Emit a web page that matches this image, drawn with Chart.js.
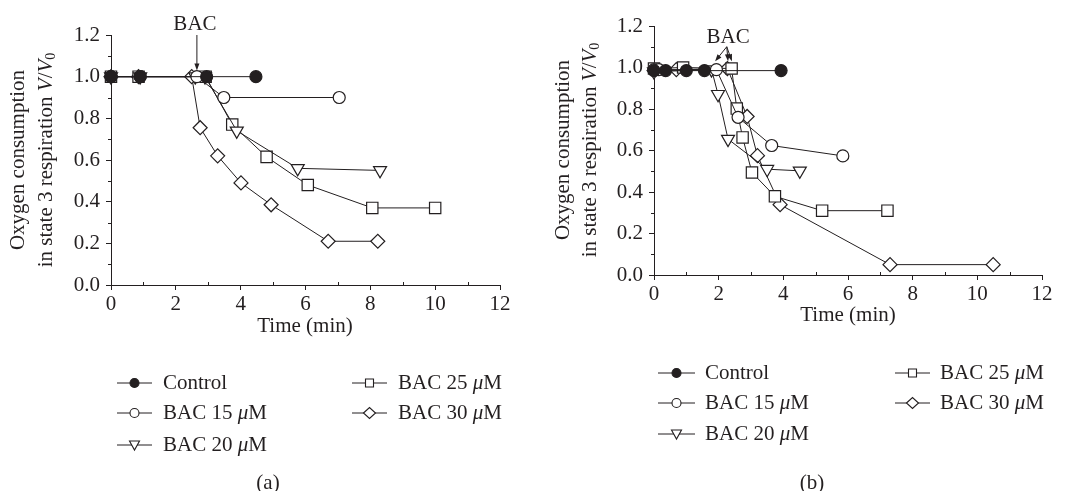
<!DOCTYPE html>
<html>
<head>
<meta charset="utf-8">
<script src="https://cdn.jsdelivr.net/npm/chart.js@4.4.0/dist/chart.umd.min.js"></script>
<style>
  body { margin: 0; background: #fff; }
  #wrap { position: relative; width: 1070px; height: 491px; }
  canvas { position: absolute; top: 0; }
</style>
</head>
<body>
<div id="wrap">
  <canvas id="chartA" width="535" height="491" style="left:0"></canvas>
  <canvas id="chartB" width="535" height="491" style="left:535px"></canvas>
</div>
<script>
// series names and marker shapes
const seriesLabels = ['Control', 'BAC 15 μM', 'BAC 20 μM', 'BAC 25 μM', 'BAC 30 μM'];
const seriesShapes = ['circle', 'circle', 'triangle', 'rect', 'rectRot'];
const xTickLabels = ['0', '2', '4', '6', '8', '10', '12'];
const yTickLabels = ['0.0', '0.2', '0.4', '0.6', '0.8', '1.0', '1.2'];

// panel (a): time (min) / V/V0
const controlA_t = [0, 0.9, 2.95, 4.47];
const controlA_v = [1.0, 1.0, 1.0, 1.0];
const bac15A_t = [0, 0.9, 2.65, 3.48, 7.04];
const bac15A_v = [1.0, 1.0, 1.0, 0.9, 0.9];
const bac20A_t = [0, 0.9, 2.6, 2.9, 3.88, 5.76, 8.3];
const bac20A_v = [1.0, 1.0, 1.0, 1.0, 0.74, 0.56, 0.55];
const bac25A_t = [0, 0.85, 2.92, 3.74, 4.8, 6.07, 8.06, 10.0];
const bac25A_v = [1.0, 1.0, 1.0, 0.77, 0.615, 0.48, 0.37, 0.37];
const bac30A_t = [0, 0.85, 2.49, 2.75, 3.29, 4.01, 4.94, 6.7, 8.23];
const bac30A_v = [1.0, 1.0, 1.0, 0.755, 0.62, 0.49, 0.385, 0.21, 0.21];

// panel (b)
const controlB_t = [0, 0.36, 1.0, 1.56, 3.93];
const controlB_v = [0.985, 0.985, 0.985, 0.985, 0.985];
const bac15B_t = [0, 0.15, 1.93, 2.6, 3.64, 5.84];
const bac15B_v = [0.99, 0.99, 0.99, 0.76, 0.624, 0.574];
const bac20B_t = [0, 1.78, 1.98, 2.29, 3.5, 4.51];
const bac20B_v = [0.98, 0.99, 0.871, 0.655, 0.51, 0.502];
const bac25B_t = [0, 0.9, 2.4, 2.56, 2.74, 3.03, 3.74, 5.2, 7.22];
const bac25B_v = [0.995, 1.0, 0.995, 0.802, 0.663, 0.494, 0.379, 0.31, 0.31];
const bac30B_t = [0, 0.69, 2.27, 2.88, 3.2, 3.9, 7.3, 10.49];
const bac30B_v = [0.985, 0.99, 0.995, 0.764, 0.575, 0.339, 0.05, 0.05];

const INK = '#231f20';
const FAM = '"Liberation Serif", "DejaVu Serif", serif';

function pts(t, v) {
  return t.map((x, i) => ({ x: x, y: v[i] }));
}

function makeDatasets(series) {
  return series.map((s, i) => ({
    label: seriesLabels[i],
    data: pts(s[0], s[1]),
    borderColor: INK,
    borderWidth: 1,
    tension: 0,
    clip: false,
    pointStyle: seriesShapes[i],
    pointRotation: seriesShapes[i] === 'triangle' ? 180 : 0,
    pointRadius: seriesShapes[i] === 'rect' ? 8 : (seriesShapes[i] === 'rectRot' ? 7 : (seriesShapes[i] === 'triangle' ? 7.5 : 6)),
    pointBorderWidth: 1.2,
    pointBorderColor: INK,
    pointBackgroundColor: i === 0 ? INK : '#fff'
  }));
}

// small marker for the legend
function drawMarker(ctx, shape, x, y, filled) {
  ctx.beginPath();
  if (shape === 'circle') {
    ctx.arc(x, y, 4.5, 0, Math.PI * 2);
  } else if (shape === 'rect') {
    ctx.rect(x - 4, y - 4, 8, 8);
  } else if (shape === 'rectRot') {
    ctx.moveTo(x - 6, y); ctx.lineTo(x, y - 5.5); ctx.lineTo(x + 6, y); ctx.lineTo(x, y + 5.5); ctx.closePath();
  } else {
    ctx.moveTo(x - 5, y - 4); ctx.lineTo(x + 5, y - 4); ctx.lineTo(x, y + 5); ctx.closePath();
  }
  ctx.fillStyle = filled ? INK : '#fff';
  ctx.fill();
  ctx.lineWidth = 1.1;
  ctx.strokeStyle = INK;
  ctx.stroke();
}

// text in pieces with different fonts
function drawRich(ctx, parts, x, y, align) {
  let total = 0;
  parts.forEach(p => { ctx.font = p.f; p.w = ctx.measureText(p.t).width; total += p.w; });
  let cx = align === 'center' ? x - total / 2 : x;
  ctx.textAlign = 'left';
  parts.forEach(p => { ctx.font = p.f; ctx.fillText(p.t, cx, y + (p.dy || 0)); cx += p.w; });
}

const fN = '21px ' + FAM;
const fI = 'italic 21px ' + FAM;
const fS = '14px ' + FAM;

function labelParts(label) {
  const m = label.match(/^(.*)(μ)(M)$/);
  if (!m) return [{ t: label, f: fN }];
  return [{ t: m[1], f: fN }, { t: m[2], f: fI }, { t: m[3], f: fN }];
}

const decor = {
  id: 'decor',
  afterDraw(chart) {
    const d = chart.options.plugins.decor;
    const ctx = chart.ctx;
    const xs = chart.scales.x, ys = chart.scales.y;
    ctx.save();
    ctx.fillStyle = INK;
    ctx.strokeStyle = INK;
    ctx.textBaseline = 'middle';

    // minor ticks
    ctx.lineWidth = 1;
    ctx.beginPath();
    for (let v = 1; v < 12; v += 2) {
      const px = Math.round(xs.getPixelForValue(v)) + 0.5;
      ctx.moveTo(px, chart.chartArea.bottom);
      ctx.lineTo(px, chart.chartArea.bottom - 3);
    }
    for (let v = 0.1; v < 1.2; v += 0.2) {
      const py = Math.round(ys.getPixelForValue(v)) + 0.5;
      ctx.moveTo(chart.chartArea.left, py);
      ctx.lineTo(chart.chartArea.left - 3, py);
    }
    ctx.stroke();

    // y axis title, two rotated lines
    ctx.save();
    ctx.translate(d.yTitle.x1, d.yTitle.cy);
    ctx.rotate(-Math.PI / 2);
    drawRich(ctx, [{ t: 'Oxygen consumption', f: fN }], 0, 0, 'center');
    ctx.restore();
    ctx.save();
    ctx.translate(d.yTitle.x2, d.yTitle.cy);
    ctx.rotate(-Math.PI / 2);
    drawRich(ctx, [
      { t: 'in state 3 respiration ', f: fN },
      { t: 'V', f: fI }, { t: '/', f: fN }, { t: 'V', f: fI },
      { t: '0', f: fS, dy: 5 }
    ], 0, 0, 'center');
    ctx.restore();

    // x axis title
    drawRich(ctx, [{ t: 'Time (min)', f: fN }], d.xTitle.x, d.xTitle.y, 'center');

    // BAC label and arrows
    drawRich(ctx, [{ t: 'BAC', f: fN }], xs.getPixelForValue(d.bac.text[0]), ys.getPixelForValue(d.bac.text[1]), 'center');
    d.bac.arrows.forEach(a => {
      const x1 = xs.getPixelForValue(a[0][0]), y1 = ys.getPixelForValue(a[0][1]);
      const x2 = xs.getPixelForValue(a[1][0]), y2 = ys.getPixelForValue(a[1][1]);
      const ang = Math.atan2(y2 - y1, x2 - x1);
      ctx.lineWidth = 1;
      ctx.beginPath();
      ctx.moveTo(x1, y1);
      ctx.lineTo(x2 - 5 * Math.cos(ang), y2 - 5 * Math.sin(ang));
      ctx.stroke();
      ctx.beginPath();
      ctx.moveTo(x2, y2);
      ctx.lineTo(x2 - 7 * Math.cos(ang) + 2.5 * Math.sin(ang), y2 - 7 * Math.sin(ang) - 2.5 * Math.cos(ang));
      ctx.lineTo(x2 - 7 * Math.cos(ang) - 2.5 * Math.sin(ang), y2 - 7 * Math.sin(ang) + 2.5 * Math.cos(ang));
      ctx.closePath();
      ctx.fill();
    });

    // legend in two columns
    chart.data.datasets.forEach((ds, i) => {
      const col = i < 3 ? d.legend.col1 : d.legend.col2;
      const y = d.legend.rows[i < 3 ? i : i - 3];
      ctx.lineWidth = 1;
      ctx.strokeStyle = INK;
      ctx.beginPath();
      ctx.moveTo(col.x1, y);
      ctx.lineTo(col.x2, y);
      ctx.stroke();
      drawMarker(ctx, seriesShapes[i], (col.x1 + col.x2) / 2, y, i === 0);
      ctx.fillStyle = INK;
      drawRich(ctx, labelParts(ds.label), col.tx, y, 'left');
    });

    // panel letter
    drawRich(ctx, [{ t: d.panel.t, f: fN }], d.panel.x, d.panel.y, 'center');
    ctx.restore();
  }
};

function makeChart(id, datasets, lay, decorOpts) {
  return new Chart(document.getElementById(id), {
    type: 'line',
    data: { datasets: datasets },
    plugins: [decor],
    options: {
      responsive: false,
      animation: false,
      events: [],
      layout: { padding: lay.padding },
      plugins: {
        legend: { display: false },
        tooltip: { enabled: false },
        decor: decorOpts
      },
      scales: {
        x: {
          type: 'linear',
          min: 0, max: 12,
          afterFit(s) { s.height = lay.xHeight; },
          border: { color: INK, width: 1 },
          grid: { display: true, drawOnChartArea: false, drawTicks: true, tickLength: 5, color: INK },
          ticks: {
            stepSize: 2, autoSkip: false, maxRotation: 0, padding: 2,
            color: INK, font: { family: FAM, size: 21 },
            callback: (v) => xTickLabels[Math.round(v / 2)]
          }
        },
        y: {
          min: 0, max: 1.2,
          afterFit(s) { s.width = lay.yWidth; },
          border: { color: INK, width: 1 },
          grid: { display: true, drawOnChartArea: false, drawTicks: true, tickLength: 5, color: INK },
          ticks: {
            stepSize: 0.2, autoSkip: false, padding: 6,
            color: INK, font: { family: FAM, size: 21 },
            callback: (v) => yTickLabels[Math.round(v / 0.2)]
          }
        }
      }
    }
  });
}

makeChart('chartA',
  makeDatasets([[controlA_t, controlA_v], [bac15A_t, bac15A_v], [bac20A_t, bac20A_v], [bac25A_t, bac25A_v], [bac30A_t, bac30A_v]]),
  { padding: { top: 35, right: 35, left: 0, bottom: 0 }, yWidth: 111, xHeight: 206 },
  {
    yTitle: { x1: 18, x2: 46, cy: 160 },
    xTitle: { x: 305, y: 326 },
    bac: { text: [2.59, 1.25], arrows: [[[2.65, 1.2], [2.65, 1.03]]] },
    legend: { col1: { x1: 117, x2: 152, tx: 163 }, col2: { x1: 352, x2: 387, tx: 398 }, rows: [383, 413, 445] },
    panel: { t: '(a)', x: 268, y: 483 }
  });

makeChart('chartB',
  makeDatasets([[controlB_t, controlB_v], [bac15B_t, bac15B_v], [bac20B_t, bac20B_v], [bac25B_t, bac25B_v], [bac30B_t, bac30B_v]]),
  { padding: { top: 26, right: 28, left: 0, bottom: 0 }, yWidth: 119, xHeight: 216 },
  {
    yTitle: { x1: 28, x2: 55, cy: 150 },
    xTitle: { x: 313, y: 315 },
    bac: { text: [2.29, 1.147], arrows: [[[2.25, 1.10], [1.89, 1.03]], [[2.25, 1.10], [2.29, 1.03]], [[2.25, 1.10], [2.41, 1.03]]] },
    legend: { col1: { x1: 123, x2: 160, tx: 170 }, col2: { x1: 360, x2: 395, tx: 405 }, rows: [373, 403, 434] },
    panel: { t: '(b)', x: 277, y: 483 }
  });
</script>
</body>
</html>
